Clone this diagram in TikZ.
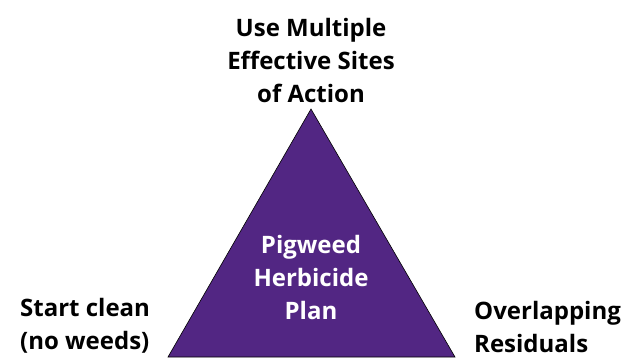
\documentclass[tikz,border=0pt]{standalone}
\usepackage{fontspec}
\setmainfont{Open Sans}
\usepackage{tikz}
\usetikzlibrary{calc,shapes,positioning}
\definecolor{planpurple}{RGB}{82,38,131}

\begin{document}
\begin{tikzpicture}[x=1pt,y=-1pt]
        \tikzstyle{lnode} = [font=\bfseries\fontsize{24}{33}\selectfont, inner sep = 0pt]
        \tikzstyle{tri} = [fill=planpurple, draw=black, line width=0.6pt, line join=miter]

        \useasboundingbox (0,0) rectangle (631,358);

        \coordinate (t0) at (311,109);
        \coordinate (t1) at (168,357);
        \coordinate (t2) at (455,357);
        \draw[tri] (t0) -- (t1) -- (t2) -- cycle;

        \node[lnode, align=center] (sites) at (311,61) {Use Multiple\\Effective Sites\\of Action};
        \node[lnode, align=center, text=white] (plan) at (311,277) {Pigweed\\Herbicide\\Plan};
        \node[lnode, align=left, anchor=west] (clean) at (20,326) {Start clean\\(no weeds)};
        \node[lnode, align=left, anchor=west] (resid) at (474,327) {Overlapping\\Residuals};
      \end{tikzpicture}
\end{document}
